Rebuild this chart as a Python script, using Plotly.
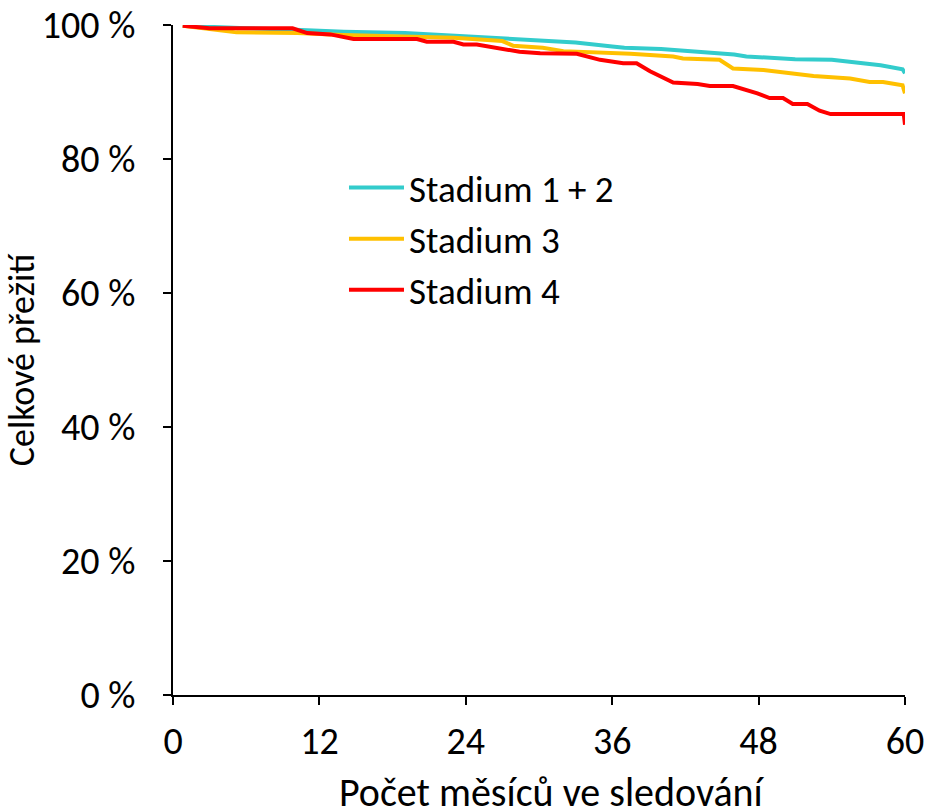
import plotly.graph_objs as go

# months of follow-up / overall survival (%)
months_s12 = [0.8, 3, 6, 10, 14, 19, 24, 30, 33, 36, 37, 40, 44, 46, 47, 51, 54, 56, 57, 58, 59.8, 60]
surv_s12 = [99.9, 99.7, 99.5, 99.3, 99.0, 98.8, 98.3, 97.8, 97.4, 96.8, 96.6, 96.4, 95.8, 95.6, 95.3,
            94.9, 94.8, 94.4, 94.3, 94.0, 93.4, 92.8]

months_s3 = [0.8, 5.2, 10.2, 13.9, 23, 27, 27.9, 30.3, 32, 34.8, 37.5, 41, 41.8, 44.8, 45.9, 48.4,
             51.1, 52.5, 55.5, 57.1, 58.2, 59.0, 59.8, 60]
surv_s3 = [99.9, 98.9, 98.8, 98.5, 98.1, 97.6, 96.9, 96.6, 96.1, 95.9, 95.7, 95.3, 95.0, 94.8, 93.5,
           93.3, 92.8, 92.4, 92.0, 91.5, 91.5, 91.2, 91.0, 89.8]

months_s4 = [0.8, 3, 9.8, 11, 12.9, 14.8, 20, 20.8, 23, 23.8, 24.9, 28.4, 30.1, 33.1, 35, 36.9, 38,
             39.1, 41, 43, 44, 45.9, 47.9, 48.9, 50, 50.8, 52, 53, 53.9, 59.9, 60]
surv_s4 = [99.9, 99.5, 99.5, 98.8, 98.6, 97.9, 97.9, 97.5, 97.5, 97.1, 97.1, 96.0, 95.8, 95.7, 94.8,
           94.3, 94.3, 93.1, 91.4, 91.2, 90.9, 90.9, 89.8, 89.1, 89.1, 88.2, 88.2, 87.2, 86.7, 86.7, 85.1]

names = ['Stadium 1 + 2', 'Stadium 3', 'Stadium 4']
colors = ['#33CCCC', '#FFC000', '#FF0000']
x_ticks = [0, 12, 24, 36, 48, 60]
y_ticks = [0, 20, 40, 60, 80, 100]
y_ticktext = [str(v) + ' %' for v in y_ticks]
x_title = 'Počet měsíců ve sledování'
y_title = 'Celkové přežití'

FONT = 'Carlito, Calibri, Lato, sans-serif'
FS = 38

data = []
for i, (xs, ys) in enumerate([(months_s12, surv_s12), (months_s3, surv_s3), (months_s4, surv_s4)]):
    data.append(go.Scatter(x=xs, y=ys, mode='lines', name=names[i], legendgroup=str(i),
                           line=dict(color=colors[i], width=4), cliponaxis=False))

layout = go.Layout(
    width=927, height=810,
    margin=dict(l=173, r=22, t=25, b=115),
    paper_bgcolor='white', plot_bgcolor='white',
    font=dict(family=FONT, size=FS, color='black'),
    showlegend=True,
    legend=dict(x=0.2336, y=0.803, xanchor='left', yanchor='top', font=dict(size=37),
                itemwidth=55, traceorder='grouped', tracegroupgap=0, bgcolor='rgba(0,0,0,0)'),
    xaxis=dict(range=[0, 60], tickvals=x_ticks, showgrid=False, zeroline=False, automargin=False,
               showline=True, linecolor='black', linewidth=2,
               ticks='outside', ticklen=8, tickwidth=2, tickcolor='black',
               tickfont=dict(size=FS), ticklabelstandoff=3, ticklabeloverflow='allow'),
    yaxis=dict(range=[0, 100], tickvals=y_ticks, ticktext=y_ticktext, showgrid=False, zeroline=False,
               automargin=False, showline=True, linecolor='black', linewidth=2,
               ticks='outside', ticklen=8, tickwidth=2, tickcolor='black',
               tickfont=dict(size=FS), ticklabelstandoff=20, ticklabeloverflow='allow',
               title=dict(text=y_title, font=dict(size=36))),
    annotations=[dict(text=x_title, xref='paper', yref='paper', x=0.518, y=-0.146,
                      xanchor='center', yanchor='middle', showarrow=False, font=dict(size=40))],
)

fig = go.Figure(data=data, layout=layout)
# drop the default page margin so the 927x810 figure fills the window exactly
fig.write_html("out.html", config={'displayModeBar': False},
               post_script="document.body.style.margin='0';")
